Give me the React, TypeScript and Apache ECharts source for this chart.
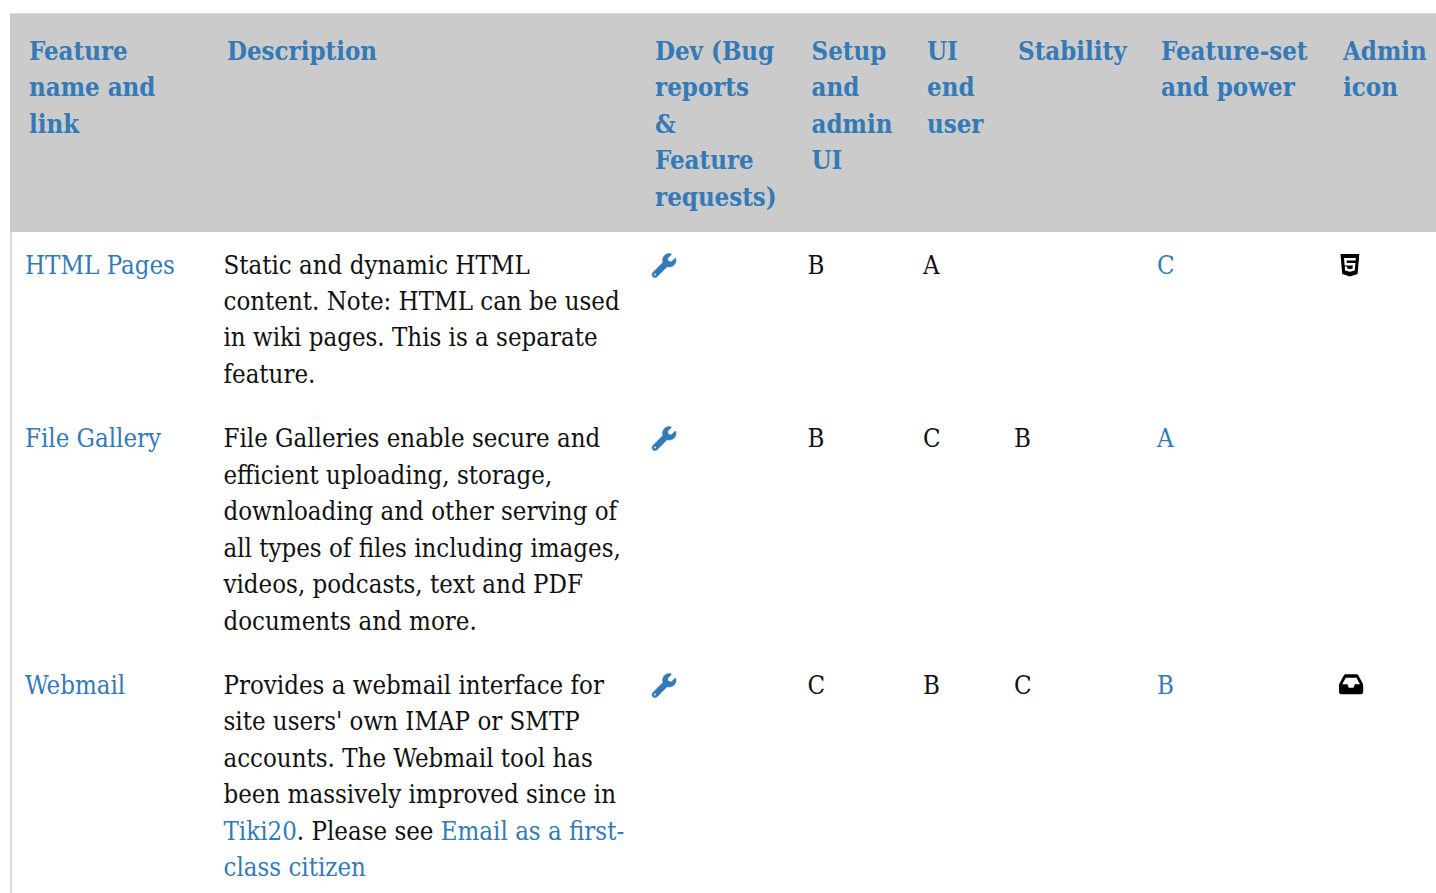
import React, { useEffect, useRef } from "react";
import * as echarts from "echarts";

const headers: string[][] = [
  ["Feature", "name and", "link"],
  ["Description"],
  ["Dev (Bug", "reports", "&", "Feature", "requests)"],
  ["Setup", "and", "admin", "UI"],
  ["UI", "end", "user"],
  ["Stability"],
  ["Feature-set", "and power"],
  ["Admin", "icon"],
];
const featureNames = ["HTML Pages", "File Gallery", "Webmail"];
const setupGrades = ["B", "B", "C"];
const uiGrades = ["A", "C", "B"];
const stabilityGrades = ["", "B", "C"];
const powerGrades = ["C", "A", "B"];
const adminIcons = ["html5", "", "inbox"];
const descriptions: string[][] = [
  ["Static and dynamic HTML", "content. Note: HTML can be used", "in wiki pages. This is a separate", "feature."],
  [
    "File Galleries enable secure and",
    "efficient uploading, storage,",
    "downloading and other serving of",
    "all types of files including images,",
    "videos, podcasts, text and PDF",
    "documents and more.",
  ],
  [
    "Provides a webmail interface for",
    "site users' own IMAP or SMTP",
    "accounts. The Webmail tool has",
    "been massively improved since in",
    "{l|Tiki20}{t|. Please see }{l|Email as a first-}",
    "{l|class citizen}",
  ],
];

const BLUE = "#337ab7";
const INK = "#111111";
const FONT = "'DejaVu Serif Condensed'";
const SIZE = 25.6;
const headerX = [29, 227, 655, 811.5, 927, 1018, 1161, 1343];
const headerY = [51, 87, 124, 160, 197];
const rowLineY = [
  [265, 301, 337, 374],
  [438, 475, 511, 548, 584, 621],
  [685, 721, 758, 794, 831, 867],
];
const cellX = { name: 25, desc: 223.5, tool: 652, setup: 807.5, ui: 923, stab: 1014, power: 1157, admin: 1339 };

const WRENCH =
  "M507.73 109.1c-2.24-9.03-13.54-12.09-20.12-5.51l-74.36 74.36-67.88-11.31-11.31-67.88 74.36-74.36c6.62-6.62 3.43-17.9-5.66-20.16-47.38-11.74-99.55.91-136.58 37.93-39.64 39.64-50.55 97.1-34.05 147.2L18.74 402.76c-24.99 24.99-24.99 65.51 0 90.5 24.99 24.99 65.51 24.99 90.5 0l213.21-213.21c50.12 16.71 107.47 5.68 147.37-34.22 37.07-37.07 49.7-89.32 37.91-136.73zM64 472c-13.25 0-24-10.75-24-24 0-13.26 10.75-24 24-24s24 10.74 24 24c0 13.25-10.75 24-24 24z";
const HTML5 =
  "M0 32l34.9 395.8L191.5 480l157.6-52.2L384 32H0zm308.2 127.9H124.4l4.1 49.4h175.6l-13.6 148.4-97.9 27v.3h-1.1l-98.7-27.3-6-75.8h47.7L138 320l53.5 14.5 53.7-14.5 6-62.2H84.3L71.5 112.2h241.1l-4.4 47.7z";
const INBOX =
  "M567.938 243.908L462.25 85.374A48.003 48.003 0 0 0 422.311 64H153.689a48 48 0 0 0-39.938 21.374L8.062 243.908A47.994 47.994 0 0 0 0 270.533V400c0 26.51 21.49 48 48 48h480c26.51 0 48-21.49 48-48V270.533a47.994 47.994 0 0 0-8.062-26.625zM162.252 128h251.497l85.333 128H376l-32 64H232l-32-64H76.918l85.334-128z";

echarts.graphic.registerShape("wrenchIcon", echarts.graphic.extendPath(WRENCH, {}) as any);
echarts.graphic.registerShape("html5Icon", echarts.graphic.extendPath(HTML5, {}) as any);
echarts.graphic.registerShape("inboxIcon", echarts.graphic.extendPath(INBOX, {}) as any);

function label(text: string, x: number, y: number, color: string, bold = false) {
  return {
    type: "text",
    x,
    y,
    silent: true,
    style: {
      text,
      fill: color,
      font: `${bold ? "bold " : ""}${SIZE}px ${FONT}`,
      textAlign: "left",
      textVerticalAlign: "middle",
      rich: {
        l: { fill: BLUE, font: `${SIZE}px ${FONT}` },
        t: { fill: INK, font: `${SIZE}px ${FONT}` },
      },
    },
  };
}

export default function App() {
  const ref = useRef<HTMLDivElement>(null);
  useEffect(() => {
    document.body.style.margin = "0";
    const chart = echarts.init(ref.current!, undefined, { renderer: "svg" });
    const els: any[] = [
      { type: "rect", shape: { x: 10, y: 13, width: 1426, height: 880 }, style: { fill: "#dddddd" }, silent: true },
      { type: "rect", shape: { x: 12, y: 232, width: 1424, height: 661 }, style: { fill: "#ffffff" }, silent: true },
      { type: "rect", shape: { x: 10, y: 14, width: 1426, height: 218 }, style: { fill: "#cbcbcb" }, silent: true },
    ];
    headers.forEach((lines, c) =>
      lines.forEach((t, i) => els.push(label(t, headerX[c], headerY[i], BLUE, true)))
    );
    featureNames.forEach((name, r) => {
      const y = rowLineY[r][0];
      els.push(label(name, cellX.name, y, BLUE));
      descriptions[r].forEach((t, i) => els.push(label(t, cellX.desc, rowLineY[r][i], INK)));
      els.push({
        type: "wrenchIcon",
        x: cellX.tool,
        y: y - 11.5,
        scaleX: 24 / 512,
        scaleY: 24 / 512,
        style: { fill: BLUE, stroke: BLUE, lineWidth: 10 },
        silent: true,
      });
      els.push(label(setupGrades[r], cellX.setup, y, INK));
      els.push(label(uiGrades[r], cellX.ui, y, INK));
      if (stabilityGrades[r]) els.push(label(stabilityGrades[r], cellX.stab, y, INK));
      els.push(label(powerGrades[r], cellX.power, y, BLUE));
      if (adminIcons[r] === "html5")
        els.push({
          type: "html5Icon",
          x: cellX.admin + 1.5,
          y: y - 12.5,
          scaleX: 19 / 384,
          scaleY: 24 / 480,
          style: { fill: "#000000" },
          silent: true,
        });
      if (adminIcons[r] === "inbox")
        els.push({
          type: "inboxIcon",
          x: cellX.admin,
          y: y - 14,
          scaleX: 24 / 576,
          scaleY: 20 / 384,
          style: { fill: "#000000" },
          silent: true,
        });
    });
    chart.setOption({ animation: false, backgroundColor: "#ffffff", graphic: { elements: els } });
    return () => chart.dispose();
  }, []);
  return <div ref={ref} style={{ width: 1436, height: 893 }} />;
}
